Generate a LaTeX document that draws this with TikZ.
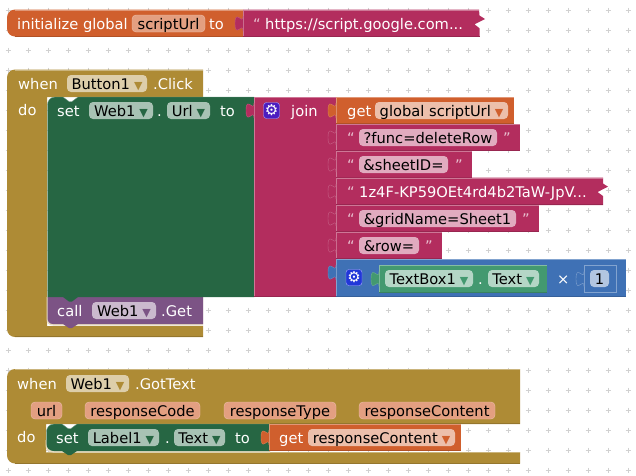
\documentclass[tikz,border=0pt]{standalone}
\usepackage{fontspec}
\setmainfont{DejaVu Sans}
\usepackage{tikz}

\definecolor{varcol}{HTML}{D05F2D}
\definecolor{strcol}{HTML}{B32D5E}
\definecolor{ctlcol}{HTML}{AE8B35}
\definecolor{setcol}{HTML}{266643}
\definecolor{getcol}{HTML}{439970}
\definecolor{callcol}{HTML}{7C5385}
\definecolor{mathcol}{HTML}{3F71B5}
\definecolor{joingear}{HTML}{4B1EC0}
\definecolor{mathgear}{HTML}{2137D8}

% value block with a light top and left edge and a dark bottom edge
\newcommand{\slab}[5]{
    \fill[#5] (#1,#2) rectangle (#3,#4);
    \draw[#5!65!white] (#1+.5,#4) -- (#1+.5,#2+.5) -- (#3,#2+.5);
    \draw[#5!85!black] (#1,#4-.5) -- (#3,#4-.5);
}
\newcommand{\dropmark}[1]{\hspace{4pt}\textcolor{#1}{\fontsize{11}{11}\selectfont ▼}}

\begin{document}
\begin{tikzpicture}[x=1pt, y=-1pt, font=\fontsize{14.67}{16}\selectfont,
    word/.style = {anchor=base west, inner sep=0pt, text=white},
    quote/.style = {anchor=base west, inner sep=0pt, text=strcol!30!white},
    field/.style = {rounded corners=4, inner sep=0pt, minimum height=17, text height=13, text depth=2, text=black},
    ctlfield/.style = {field, fill=ctlcol!42!white},
    setfield/.style = {field, fill=setcol!40!white},
    callfield/.style = {field, fill=callcol!40!white},
    varfield/.style = {field, fill=varcol!40!white},
    strfield/.style = {field, fill=strcol!40!white},
    getfield/.style = {field, fill=getcol!40!white},
    parfield/.style = {field, fill=varcol!60!white, draw=varcol!40!white},
    gridmark/.style = {draw=black!18, line width=.8},
    gear/.style = {rounded corners=3, minimum size=16, inner sep=0pt, text=white, draw=white!65!blue, font=\fontsize{15}{15}\selectfont},
    valuetab/.pic = {\path[pic actions] (0,0) .. controls (0,10) and (-8,-8) .. (-8,7.5) .. controls (-8,23) and (0,5) .. (0,15);}]

\useasboundingbox (0,0) rectangle (636,475);

\foreach \x in {8,28,...,628}
    \foreach \y in {10,30,...,470}
        \draw[gridmark] (\x-2.5,\y) -- (\x+2.5,\y) (\x,\y-2.5) -- (\x,\y+2.5);

% initialize global
\fill[varcol] (15,9.5) -- (243,9.5) -- (243,36.5) -- (15,36.5) .. controls (10.6,36.5) and (7,32.9) .. (7,28.5) -- (7,17.5) .. controls (7,13.1) and (10.6,9.5) .. (15,9.5) -- cycle;
\draw[varcol!65!white] (15,10) -- (243,10);
\draw[varcol!85!black] (15,36) -- (243,36);
\fill[strcol] (243,9.5) -- (479,9.5) -- (479.5,15.5) -- (485,19) -- (474.5,24.3) -- (479.5,28.3) -- (479.5,36.5) -- (243,36.5) -- cycle;
\draw[strcol!65!white] (243.5,36) -- (243.5,10) -- (479,10);
\draw[strcol!85!black] (243,36) -- (479.5,36);
\pic[fill=strcol, draw=strcol!80!white] at (243,16) {valuetab};

\node[word] (initword) at (17,29) {initialize global};
\node[parfield, minimum width=73] (initname) at (168.5,23.5) {scriptUrl};
\node[word] (initto) at (209,29) {to};
\node[quote] (urlquote) at (253,29) {“};
\node[word] (urltext) at (265,29) {https://script.google.com...};

% when Button1.Click
\fill[ctlcol] (15,69.5) -- (203,69.5) -- (203,97) -- (47,97) -- (47,326) -- (203,326) -- (203,337) -- (15,337) .. controls (10.6,337) and (7,333.4) .. (7,329) -- (7,77.5) .. controls (7,73.1) and (10.6,69.5) .. (15,69.5) -- cycle;
\draw[ctlcol!65!white] (15,70) -- (203,70);
\draw[ctlcol!85!black] (15,336.5) -- (203,336.5);

\node[word] (clickwhen) at (18,89) {when};
\node[ctlfield, minimum width=80] (clickbutton) at (107,83.5) {Button1\dropmark{ctlcol}};
\node[word] (clickword) at (153,89) {.Click};
\node[word] (clickdo) at (18,115.5) {do};

% call Web1.Get
\fill[white!70!ctlcol] (46.5,297) -- (46.5,319) .. controls (46.5,323) and (49,325.5) .. (53,325.5) -- (203,325.5) -- (203,297) -- cycle;
\fill[callcol] (47.5,297) -- (203,297) -- (203,324) -- (78,324) -- (72,328) -- (69,328) -- (63,324) -- (53,324) .. controls (49.5,324) and (47.5,321.5) .. (47.5,318) -- cycle;
\node[word] (callword) at (57,316) {call};
\node[callfield, minimum width=64] (callweb) at (124,310.5) {Web1\dropmark{callcol}};
\node[word] (callget) at (161,316) {.Get};

% set Web1.Url
\fill[setcol] (55,97) -- (63,97) -- (69,101.5) -- (72,101.5) -- (78,97) -- (254,97) -- (254,297) -- (78,297) -- (72,301.5) -- (69,301.5) -- (63,297) -- (47.5,297) -- (47.5,105) .. controls (47.5,100.5) and (50.5,97) .. (55,97) -- cycle;
\draw[setcol!65!white] (47.5,297) -- (47.5,105) .. controls (47.5,100.5) and (50.5,97) .. (55,97) -- (63,97) -- (69,101.5) -- (72,101.5) -- (78,97) -- (254,97);
\node[word] (setword) at (57,116) {set};
\node[setfield, minimum width=64] (setweb) at (121,110.5) {Web1\dropmark{setcol}};
\node[word] (setdot) at (157,116) {.};
\node[setfield, minimum width=43] (seturl) at (188.5,110.5) {Url\dropmark{setcol}};
\node[word] (setto) at (220,116) {to};

% join
\slab{254}{97}{336}{297}{strcol}
\pic[fill=strcol, draw=strcol!80!white] at (254,103) {valuetab};
\node[gear, fill=joingear] (joinicon) at (271.5,110.5) {⚙};
\node[word] (joinword) at (291,116) {join};

% get global scriptUrl
\slab{336}{97}{514}{124}{varcol}
\pic[fill=varcol, draw=varcol!80!white] at (336,103) {valuetab};
\node[word] (getword) at (347,116) {get};
\node[varfield, minimum width=133] (getname) at (441.5,110.5) {global scriptUrl\dropmark{varcol}};

% the strings of the join
\slab{336}{124}{520}{151}{strcol}
\pic[fill=strcol, draw=strcol!75!white] at (336,130) {valuetab};
\node[quote] (funcopen) at (347,143) {“};
\node[strfield, minimum width=138] (functext) at (428,137.5) {?func=deleteRow};
\node[quote] (funcclose) at (503,143) {”};

\slab{336}{151}{472}{178}{strcol}
\pic[fill=strcol, draw=strcol!75!white] at (336,157) {valuetab};
\node[quote] (sheetopen) at (347,170) {“};
\node[strfield, minimum width=89] (sheettext) at (403.5,164.5) {\&sheetID=};
\node[quote] (sheetclose) at (455,170) {”};

\fill[strcol] (336,177.5) -- (603,177.5) -- (603,183.5) -- (608,186.7) -- (597.5,192) -- (603,196) -- (603,205) -- (336,205) -- cycle;
\draw[strcol!65!white] (336.5,205) -- (336.5,178) -- (603,178);
\draw[strcol!85!black] (336,204.5) -- (603,204.5);
\pic[fill=strcol, draw=strcol!75!white] at (336,184) {valuetab};
\node[quote] (idopen) at (347,197) {“};
\node[word] (idtext) at (359,197) {1z4F-KP59OEt4rd4b2TaW-JpV...};

\slab{336}{205}{539}{232}{strcol}
\pic[fill=strcol, draw=strcol!75!white] at (336,211) {valuetab};
\node[quote] (gridopen) at (347,224) {“};
\node[strfield, minimum width=157] (gridtext) at (437.5,218.5) {\&gridName=Sheet1};
\node[quote] (gridclose) at (522,224) {”};

\slab{336}{232}{442}{259}{strcol}
\pic[fill=strcol, draw=strcol!75!white] at (336,238) {valuetab};
\node[quote] (rowopen) at (347,251) {“};
\node[strfield, minimum width=60] (rowtext) at (389,245.5) {\&row=};
\node[quote] (rowclose) at (425,251) {”};

% product
\slab{336}{259}{626}{297}{mathcol}
\pic[fill=mathcol, draw=mathcol!80!white] at (336,265) {valuetab};
\node[gear, fill=mathgear] (mathicon) at (354,277.5) {⚙};
\slab{379}{265}{547}{293}{getcol}
\pic[fill=getcol, draw=getcol!80!white] at (379,271.5) {valuetab};
\node[getfield, minimum width=88] (getbox) at (429,278.5) {TextBox1\dropmark{getcol}};
\node[word] (getdot) at (478,284) {.};
\node[getfield, minimum width=51] (gettext) at (513.5,278.5) {Text\dropmark{getcol}};
\node[word] (timesword) at (557,284) {×};
\draw[mathcol!65!white, fill=mathcol] (584,265.5) rectangle (616,292.5);
\pic[fill=mathcol, draw=mathcol!65!white] at (584,271.5) {valuetab};
\node[field, fill=mathcol!40!white, minimum width=19] (numone) at (599.5,278.5) {1};

% when Web1.GotText
\fill[ctlcol] (15,369) -- (520,369) -- (520,424) -- (46,424) -- (46,452) -- (520,452) -- (520,463.5) -- (15,463.5) .. controls (10.6,463.5) and (7,459.9) .. (7,455.5) -- (7,377) .. controls (7,372.6) and (10.6,369) .. (15,369) -- cycle;
\draw[ctlcol!65!white] (15,369.5) -- (520,369.5);
\draw[ctlcol!65!white] (46,452.5) -- (520,452.5);
\draw[ctlcol!85!black] (15,463) -- (520,463);
\draw[ctlcol!85!black] (270,423.5) -- (520,423.5);

\node[word] (gotwhen) at (17,389) {when};
\node[ctlfield, minimum width=63] (gotweb) at (97.5,383.5) {Web1\dropmark{ctlcol}};
\node[word] (gotword) at (135,389) {.GotText};
\node[parfield, minimum width=31] (urlparam) at (46.5,410.5) {url};
\node[parfield, minimum width=115] (codeparam) at (142.5,410.5) {responseCode};
\node[parfield, minimum width=112] (typeparam) at (280,410.5) {responseType};
\node[parfield, minimum width=136] (contentparam) at (427,410.5) {responseContent};
\node[word] (gotdo) at (17,442) {do};

% set Label1.Text
\fill[white!70!ctlcol] (45.5,440) -- (45.5,445) .. controls (45.5,449) and (48,452.5) .. (53,452.5) -- (270,452.5) -- (270,440) -- cycle;
\fill[setcol] (54,424) -- (62,424) -- (68,428.5) -- (71,428.5) -- (77,424) -- (270,424) -- (270,451) -- (77,451) -- (71,455) -- (68,455) -- (62,451) -- (54,451) .. controls (49.5,451) and (46.5,448) .. (46.5,444) -- (46.5,432) .. controls (46.5,427.5) and (49.5,424) .. (54,424) -- cycle;
\draw[setcol!65!white] (46.5,444) -- (46.5,432) .. controls (46.5,427.5) and (49.5,424) .. (54,424) -- (62,424) -- (68,428.5) -- (71,428.5) -- (77,424) -- (270,424);
\node[word] (labelset) at (56,443) {set};
\node[setfield, minimum width=71] (labelname) at (123.5,437.5) {Label1\dropmark{setcol}};
\node[word] (labeldot) at (165,443) {.};
\node[setfield, minimum width=51] (labeltext) at (199.5,437.5) {Text\dropmark{setcol}};
\node[word] (labelto) at (235,443) {to};

\slab{269}{424}{461}{451}{varcol}
\pic[fill=varcol, draw=varcol!80!white] at (269,430) {valuetab};
\node[word] (resultget) at (279,443) {get};
\node[varfield, minimum width=147] (resultname) at (381.5,437.5) {responseContent\dropmark{varcol}};

\end{tikzpicture}
\end{document}
